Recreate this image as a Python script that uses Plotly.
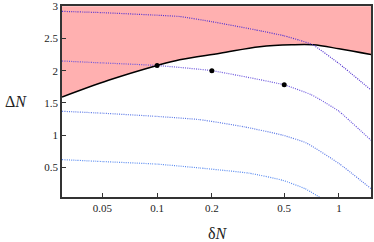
import numpy as np
import plotly.graph_objects as go

# Boundary (black) curve
bx = [0.03, 0.054, 0.1, 0.133, 0.222, 0.367, 0.55, 0.72, 1.0, 1.5]
by = [1.59, 1.85, 2.08, 2.17, 2.27, 2.37, 2.40, 2.40, 2.34, 2.25]
top_y = [3.0] * len(bx)

# Dotted curves
c1x = [0.03, 0.05, 0.1, 0.133, 0.2, 0.367, 0.5, 0.61, 0.72, 1.0, 1.5]
c1y = [2.92, 2.90, 2.86, 2.84, 2.76, 2.62, 2.54, 2.47, 2.40, 2.11, 1.70]
c2x = [0.03, 0.05, 0.1, 0.2, 0.5, 0.7, 0.8, 1.0, 1.5]
c2y = [2.15, 2.12, 2.08, 2.00, 1.78, 1.63, 1.54, 1.37, 0.92]
c3x = [0.03, 0.05, 0.1, 0.172, 0.3, 0.49, 0.66, 1.0, 1.5]
c3y = [1.37, 1.34, 1.29, 1.24, 1.13, 1.00, 0.88, 0.56, 0.17]
c4x = [0.03, 0.05, 0.1, 0.172, 0.32, 0.49, 0.65, 0.8]
c4y = [0.62, 0.59, 0.55, 0.49, 0.41, 0.30, 0.17, 0.02]

# Points
px = [0.1, 0.2, 0.5]
py = [2.08, 2.00, 1.78]

xticks = [0.05, 0.1, 0.2, 0.5, 1]
xticklabels = ["0.05", "0.1", "0.2", "0.5", "1"]
yticks = [0.5, 1, 1.5, 2, 2.5, 3]
yticklabels = ["0.5", "1", "1.5", "2", "2.5", "3"]

fig = go.Figure()
fig.add_trace(go.Scatter(x=bx, y=top_y, mode="lines", line=dict(width=0, color="rgba(0,0,0,0)"),
                         showlegend=False, hoverinfo="skip"))
fig.add_trace(go.Scatter(x=bx, y=by, mode="lines", line=dict(color="black", width=1.5, shape="spline"),
                         fill="tonexty", fillcolor="#ffb0b0", showlegend=False))

colors = ["#5535d0", "#6a55dd", "#5a78e6", "#5b8cf0"]
for (xx, yy), col in zip([(c1x, c1y), (c2x, c2y), (c3x, c3y), (c4x, c4y)], colors):
    fig.add_trace(go.Scatter(x=xx, y=yy, mode="lines",
                             line=dict(color=col, width=1.2, dash="1px,1.2px", shape="spline", smoothing=0.4),
                             showlegend=False))

fig.add_trace(go.Scatter(x=px, y=py, mode="markers", marker=dict(color="black", size=5),
                         showlegend=False))

serif = "Liberation Serif, DejaVu Serif, serif"
fig.update_layout(
    width=374, height=242,
    margin=dict(l=62, r=3, t=6, b=45),
    paper_bgcolor="white", plot_bgcolor="white",
    font=dict(family=serif, size=11, color="#222"),
    xaxis=dict(type="log", range=[np.log10(0.03), np.log10(1.5)], automargin=False,
               tickvals=xticks, ticktext=xticklabels, ticks="inside", ticklen=4,
               tickcolor="#333", showgrid=False, zeroline=False,
               showline=True, linecolor="#333", linewidth=1.5, mirror=True),
    yaxis=dict(range=[0.04, 3.003], tickvals=yticks, ticktext=yticklabels, automargin=False,
               ticks="inside", ticklen=4, tickcolor="#333", showgrid=False, zeroline=False,
               showline=True, linecolor="#333", linewidth=1.5, mirror=True),
)
pw, ph = 374 - 62 - 3, 242 - 6 - 45
fig.add_annotation(text="Δ<i>N</i>", x=(16 - 62) / pw, y=(242 - 45 - 101) / ph,
                   xref="paper", yref="paper", showarrow=False, xanchor="center", yanchor="middle",
                   font=dict(family=serif, size=16, color="#222"))
fig.add_annotation(text="δ<i>N</i>", x=(218 - 62) / pw, y=(242 - 45 - 233) / ph,
                   xref="paper", yref="paper", showarrow=False, xanchor="center", yanchor="middle",
                   font=dict(family=serif, size=16, color="#222"))

fig.write_html("out.html", config={"displayModeBar": False},
               post_script="document.body.style.margin='0';")
